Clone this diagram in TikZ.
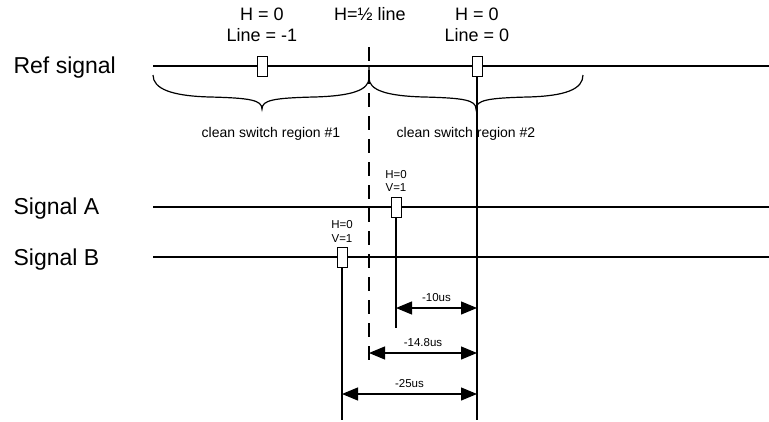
\documentclass[tikz,border=0pt]{standalone}
\usepackage{fontspec}
\setmainfont{Liberation Sans}
\usetikzlibrary{arrows.meta}

\begin{document}
\begin{tikzpicture}[x=1pt, y=-1pt, line width=1.2pt,
        markbox/.style={draw, fill=white, minimum width=10pt, minimum height=20pt, inner sep=0pt, line width=1pt},
        siglabel/.style={anchor=base west, inner sep=0pt, font=\fontsize{23}{27}\selectfont},
        toplabel/.style={anchor=base, inner sep=0pt, font=\fontsize{18}{21}\selectfont},
        regionlabel/.style={anchor=base, inner sep=0pt, font=\fontsize{14}{17}\selectfont},
        smalllabel/.style={anchor=base, inner sep=0pt, font=\fontsize{11.5}{13}\selectfont},
        delay/.style={{Triangle[length=16pt, width=13pt]}-{Triangle[length=16pt, width=13pt]}}]
        \useasboundingbox (0,0) rectangle (769,421);

        % Signal names
        \node[siglabel] (refname) at (13,73)  {Ref signal};
        \node[siglabel] (aname)   at (13,214) {Signal A};
        \node[siglabel] (bname)   at (13,265) {Signal B};

        % Top labels
        \node[toplabel] (h1)   at (262,20) {H = 0};
        \node[toplabel] (l1)   at (262,41) {Line = -1};
        \node[toplabel] (half) at (370,20) {H=½ line};
        \node[toplabel] (h2)   at (477,20) {H = 0};
        \node[toplabel] (l2)   at (477,41) {Line = 0};

        % Signal lines
        \coordinate (refL) at (153,66);  \coordinate (refR) at (769,66);
        \coordinate (sAL)  at (153,207); \coordinate (sAR)  at (769,207);
        \coordinate (sBL)  at (153,257); \coordinate (sBR)  at (769,257);
        \draw (refL) -- (refR);
        \draw (sAL) -- (sAR);
        \draw (sBL) -- (sBR);

        % Half line marker
        \coordinate (halftop) at (369,47);
        \coordinate (halfbot) at (369,367);
        \draw[dash pattern=on 14pt off 9pt] (halftop) -- (halfbot);

        % Clean switch regions
        \draw (153,75) .. controls (153,89) and (172,96) .. (210,97)
              .. controls (250,98) and (262,100) .. (262,109)
              .. controls (262,100) and (274,98) .. (314,97)
              .. controls (352,96) and (369,90) .. (369,78) -- (369,66);
        \draw (369,78) .. controls (369,90) and (386,96) .. (424,97)
              .. controls (464,98) and (476,100) .. (476,109)
              .. controls (476,100) and (488,98) .. (528,97)
              .. controls (566,96) and (583,89) .. (583,75);
        \node[regionlabel] (reg1) at (271,137) {clean switch region \#1};
        \node[regionlabel] (reg2) at (466,137) {clean switch region \#2};

        % Edge markers
        \node[markbox] (m1) at (262,66)  {};
        \node[markbox] (m2) at (477,66)  {};
        \node[markbox] (mA) at (396,207) {};
        \node[markbox] (mB) at (342,257) {};
        \node[smalllabel] (hA) at (396,178) {H=0};
        \node[smalllabel] (vA) at (396,191) {V=1};
        \node[smalllabel] (hB) at (342,228) {H=0};
        \node[smalllabel] (vB) at (342,242) {V=1};

        % Drop lines
        \coordinate (m2bot) at (477,420);
        \coordinate (mAbot) at (396,328);
        \coordinate (mBbot) at (342,420);
        \draw (m2.south) -- (m2bot);
        \draw (mA.south) -- (mAbot);
        \draw (mB.south) -- (mBbot);

        % Delays
        \coordinate (d1L) at (396,308); \coordinate (d1R) at (477,308);
        \coordinate (d2L) at (369,353); \coordinate (d2R) at (477,353);
        \coordinate (d3L) at (342,394); \coordinate (d3R) at (477,394);
        \draw[delay] (d1L) -- node[smalllabel, anchor=base, yshift=7pt] (t1) {-10us} (d1R);
        \draw[delay] (d2L) -- node[smalllabel, anchor=base, yshift=7pt] (t2) {-14.8us} (d2R);
        \draw[delay] (d3L) -- node[smalllabel, anchor=base, yshift=7pt] (t3) {-25us} (d3R);
    \end{tikzpicture}
\end{document}
